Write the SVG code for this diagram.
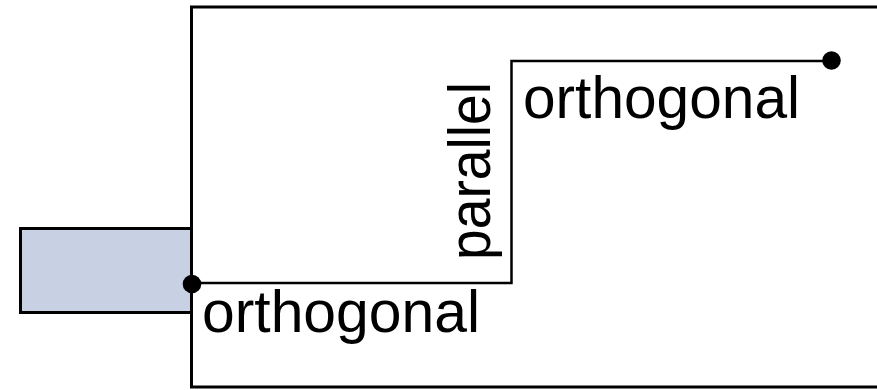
<svg xmlns="http://www.w3.org/2000/svg" width="877" height="390" viewBox="0 0 877 390">
  <style>
    .frame { fill: #ffffff; stroke: #000000; stroke-width: 3; }
    .box { fill: #c8d0e4; stroke: #000000; stroke-width: 3; }
    .route { fill: none; stroke: #000000; stroke-width: 2.5; stroke-linejoin: miter; }
    .dot { fill: #000000; }
    .lbl { font-family: "Liberation Sans", "DejaVu Sans", sans-serif; font-size: 59px; fill: #000000; }
  </style>
  <g id="container">
    <rect class="frame" x="191.5" y="7" width="700" height="380"/>
  </g>
  <g id="source">
    <rect class="box" x="20.5" y="228.5" width="171" height="84"/>
  </g>
  <g id="connectors">
    <polyline class="route" points="191.5,283 511.5,283 511.5,61 831,61"/>
    <circle class="dot" cx="192" cy="284" r="9.3"/>
    <circle class="dot" cx="831.5" cy="60.5" r="9.3"/>
  </g>
  <g id="labels">
    <text class="lbl" x="202" y="332" textLength="278" lengthAdjust="spacingAndGlyphs">orthogonal</text>
    <text class="lbl" x="523" y="118" textLength="277" lengthAdjust="spacingAndGlyphs">orthogonal</text>
    <text class="lbl" transform="translate(490,260) rotate(-90)" textLength="178" lengthAdjust="spacingAndGlyphs">parallel</text>
  </g>
</svg>
